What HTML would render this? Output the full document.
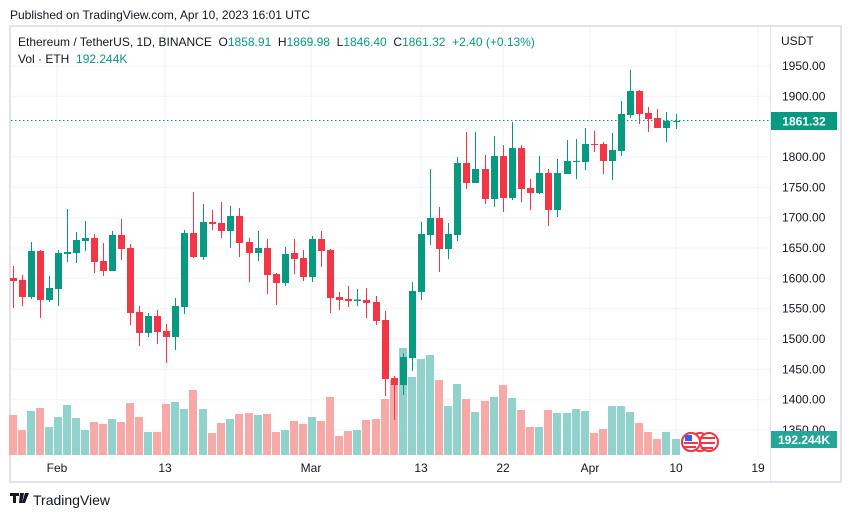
<!DOCTYPE html>
<html><head><meta charset="utf-8"><style>
body{margin:0;width:851px;height:518px;background:#fff;overflow:hidden;font-family:"Liberation Sans",sans-serif;}
svg{position:absolute;left:0;top:0}
.r{fill:#f23645;stroke:#f23645}.g{fill:#089981;stroke:#089981}
.vr{fill:#f7a9a7}.vg{fill:#92d2cc}
text{font-family:"Liberation Sans",sans-serif;}
</style></head><body>
<svg id="s" width="851" height="518" xmlns="http://www.w3.org/2000/svg">
<rect x="10" y="26" width="831" height="456" fill="none" stroke="#e0e3eb" stroke-width="2"/>
<g stroke="#f0f3fa" stroke-width="1">
<line x1="11" x2="770" y1="66" y2="66"/><line x1="11" x2="770" y1="96.3" y2="96.3"/><line x1="11" x2="770" y1="126.7" y2="126.7"/><line x1="11" x2="770" y1="157" y2="157"/><line x1="11" x2="770" y1="187.3" y2="187.3"/><line x1="11" x2="770" y1="217.7" y2="217.7"/><line x1="11" x2="770" y1="248" y2="248"/><line x1="11" x2="770" y1="278.3" y2="278.3"/><line x1="11" x2="770" y1="308.7" y2="308.7"/><line x1="11" x2="770" y1="339" y2="339"/><line x1="11" x2="770" y1="369.3" y2="369.3"/><line x1="11" x2="770" y1="399.7" y2="399.7"/><line x1="11" x2="770" y1="430" y2="430"/>
<line x1="57" x2="57" y1="27" y2="456"/><line x1="165" x2="165" y1="27" y2="456"/><line x1="311" x2="311" y1="27" y2="456"/><line x1="421" x2="421" y1="27" y2="456"/><line x1="503" x2="503" y1="27" y2="456"/><line x1="590" x2="590" y1="27" y2="456"/><line x1="676" x2="676" y1="27" y2="456"/><line x1="758" x2="758" y1="27" y2="456"/>
</g>
<line x1="770.5" x2="770.5" y1="27" y2="481" stroke="#e0e3eb"/>
<g id="vol"></g>
<g id="cdl"></g>
<line x1="11" x2="770" y1="120.5" y2="120.5" stroke="#089981" stroke-dasharray="1.5,2.5" stroke-width="1"/>
<g font-size="12" fill="#131722">
<text x="781" y="45">USDT</text>
<text x="782" y="70">1950.00</text><text x="782" y="100.3">1900.00</text><text x="782" y="161">1800.00</text><text x="782" y="191.3">1750.00</text><text x="782" y="221.7">1700.00</text><text x="782" y="252">1650.00</text><text x="782" y="282.3">1600.00</text><text x="782" y="312.7">1550.00</text><text x="782" y="343">1500.00</text><text x="782" y="373.3">1450.00</text><text x="782" y="403.7">1400.00</text><text x="782" y="434">1350.00</text>
<text x="57" y="472" text-anchor="middle">Feb</text><text x="165" y="472" text-anchor="middle">13</text><text x="311" y="472" text-anchor="middle">Mar</text><text x="421" y="472" text-anchor="middle">13</text><text x="503" y="472" text-anchor="middle">22</text><text x="590" y="472" text-anchor="middle">Apr</text><text x="676" y="472" text-anchor="middle">10</text><text x="758" y="472" text-anchor="middle">19</text>
</g>
<rect x="771" y="112" width="66" height="18" fill="#089981"/>
<text x="804" y="125.5" font-size="12" fill="#fff" text-anchor="middle" font-weight="bold">1861.32</text>
<rect x="771" y="431" width="66" height="17" fill="#26a69a"/>
<text x="804" y="444" font-size="12" fill="#fff" text-anchor="middle" font-weight="bold">192.244K</text>
<g>
<circle cx="691" cy="442" r="9" fill="#fff" stroke="#f23645" stroke-width="2"/>
<circle cx="700" cy="442" r="9" fill="#fff" stroke="#f23645" stroke-width="2"/>
<circle cx="709" cy="442" r="9" fill="#fff" stroke="#f23645" stroke-width="2"/>
<rect x="701" y="437" width="14" height="2" fill="#f23645"/><rect x="701" y="442" width="14" height="2" fill="#f23645"/><rect x="701" y="447" width="12" height="2" fill="#f23645"/>
<circle cx="691" cy="442" r="9" fill="#fff" stroke="#f23645" stroke-width="2"/>
<rect x="684" y="442" width="14" height="2" fill="#f23645"/><rect x="684" y="446" width="12" height="2" fill="#f23645"/>
<rect x="685" y="435" width="7" height="6" fill="#2962ff"/>
</g>
<text x="10" y="19" font-size="12" fill="#131722">Published on TradingView.com, Apr 10, 2023 16:01 UTC</text>
<text x="18" y="46" font-size="12" fill="#131722" xml:space="preserve">Ethereum / TetherUS, 1D, BINANCE  O<tspan fill="#089981">1858.91</tspan>  H<tspan fill="#089981">1869.98</tspan>  L<tspan fill="#089981">1846.40</tspan>  C<tspan fill="#089981">1861.32</tspan>  <tspan fill="#089981">+2.40 (+0.13%)</tspan></text>
<text x="18" y="63" font-size="12" fill="#131722" xml:space="preserve">Vol · ETH  <tspan fill="#089981">192.244K</tspan></text>
<path d="M10 493h9v3h-3v7h-3v-7h-3z M20 493h4l-2 10h-3z M25 493h4l-4 10h-3z" fill="#131722"/>
<text x="33" y="505" font-size="14" fill="#131722">TradingView</text>
</svg>
<script>
var C=[[12.7,'r',278,281,266,308],[21.5,'r',280,297,275,306],[30.5,'g',251,297,242,299],[39.5,'r',251,300,250,318],[48.5,'g',288,300,276,302],[57.5,'g',253,289,250,306],[66.5,'g',252,254,209,262],[75.5,'g',240,253,232,263],[84.5,'g',238,241,221,251],[93.5,'r',238,262,234,273],[102.5,'r',261,271,243,276],[111.5,'g',235,271,231,271],[121,'r',235,249,219,260],[130,'r',248,313,244,325],[139,'r',312,333,306,346],[148,'g',316,333,313,337],[157,'r',316,332,310,344],[166,'r',331,337,324,363],[175,'g',306,337,298,350],[184,'g',233,307,230,314],[193,'r',233,257,192,258],[202.5,'g',222,257,204,260],[211.5,'r',222,224,210,230],[220.5,'r',223,231,202,238],[230,'g',216,231,206,248],[239,'r',216,243,208,257],[248.5,'r',242,253,238,282],[257.5,'g',248,253,231,261],[266.5,'r',248,275,239,294],[275.5,'r',274,283,273,305],[284.5,'g',254,283,247,286],[293.5,'r',253,259,239,274],[302.5,'r',258,277,250,281],[311.5,'g',239,277,236,282],[320.5,'r',239,251,231,267],[329.5,'r',250,298,249,313],[339,'r',297,300,292,310],[348,'r',299,301,286,307],[357,'g',299.5,301,289,306],[366,'r',300,303,288,318],[375.5,'r',302,321,296,325],[384.5,'r',320,379,311,396],[393.5,'r',378,385,376,420],[402.5,'g',357,385,353,395],[411.5,'g',291,358,282,371],[420.5,'g',234,292,222,300],[429.5,'g',218,235,169,245],[438.5,'r',218,249,207,272],[448,'g',234,249,223,259],[457,'g',163,235,157,241],[466,'r',163,183,132,189],[475,'g',169,183,132,183],[484.5,'r',169,199,155,204],[493.5,'g',156,199,136,207],[502.5,'r',156,198,145,212],[511.5,'g',148,198,122,200],[520.5,'r',148,189,145,202],[529.5,'r',188,193,179,210],[538.5,'g',173,193,156,194],[547.5,'r',173,210,169,226],[557,'g',173,210,159,217],[566.5,'g',161,174,140,174],[575.5,'g',161,162,139,179],[584.5,'g',144,162,128,170],[593.5,'r',144,145,131,152],[602.5,'r',144,161,142,174],[611.5,'g',150,161,133,180],[620.5,'g',114,151,101,156],[629.5,'g',91,115,70,118],[638.5,'r',91,114,90,124],[647.5,'r',113,119,107,132],[656.5,'r',118,128,109,128],[666,'g',121,128,112,142],[675.5,'g',121,122,114,129]];
var V=[415,430,411,408,427,417,405,418,430,422,424,419,422,403,417,432,432,404,402,409,390,409,433,423,419,414,413,415,414,432,430,421,424,417,421,397,436,431,430,420,419,399,380,348,377,359,355,380,406,384,399,412,401,397,385,398,410,427,427,410,413,413,409,411,433,429,406,406,412,423,432,439,432,439];
var ns='http://www.w3.org/2000/svg',cg=document.getElementById('cdl'),vg=document.getElementById('vol');
function el(t,a,p){var e=document.createElementNS(ns,t);for(var k in a)e.setAttribute(k,a[k]);p.appendChild(e);}
C.forEach(function(c,i){var x=Math.round(c[0]);
el('rect',{x:x-4,y:V[i],width:8,height:455-V[i],'class':c[1]=='r'?'vr':'vg'},vg);
el('rect',{x:x,y:c[4],width:1,height:c[5]-c[4],'class':c[1],style:'stroke:none'},cg);
el('rect',{x:x-3,y:c[2],width:7,height:Math.max(1,c[3]-c[2]),'class':c[1],style:'stroke:none'},cg);});
</script>
</body></html>
